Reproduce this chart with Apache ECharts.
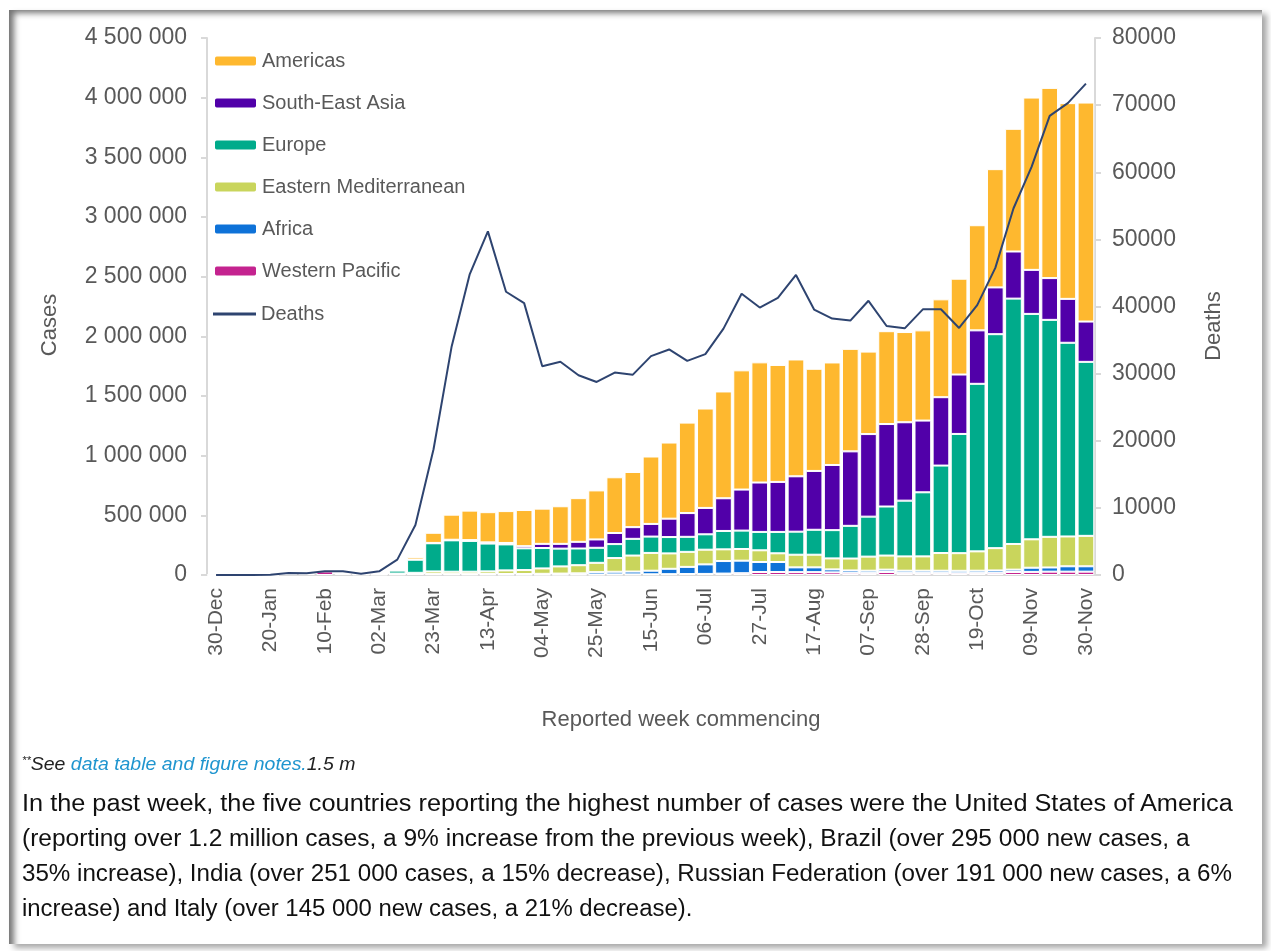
<!DOCTYPE html>
<html><head><meta charset="utf-8">
<script src="https://cdn.jsdelivr.net/npm/echarts@6/dist/echarts.min.js"></script>
<style>
html,body{margin:0;padding:0;background:#fff;width:1271px;height:951px;overflow:hidden;}
#frame{position:absolute;left:9px;top:10px;width:1253px;height:934px;background:#fff;
 box-shadow: inset 8px 6px 6px -3px rgba(0,0,0,0.55), 5px 4px 6px rgba(0,0,0,0.35);}
#chart{position:absolute;left:0;top:0;width:1271px;height:951px;}
.txt{position:absolute;left:22px;white-space:nowrap;transform-origin:0 50%;font-family:'Liberation Sans',Arial,sans-serif;color:#111;}
.body{font-size:23px;line-height:28px;}
#note{font-style:italic;font-size:19px;line-height:24px;color:#222;}
#note sup{font-size:11px;vertical-align:6px;}
</style></head>
<body>
<div id="frame"></div>
<div id="chart"></div>
<div id="note" class="txt" style="top:748px" data-w="333"><sup>**</sup>See <span style="color:#1f95cf">data table and figure notes.</span>1.5 m</div>
<div class="txt body" style="top:789px" data-w="1211">In the past week, the five countries reporting the highest number of cases were the United States of America</div>
<div class="txt body" style="top:824px" data-w="1168">(reporting over 1.2 million cases, a 9% increase from the previous week), Brazil (over 295 000 new cases, a</div>
<div class="txt body" style="top:859px" data-w="1210">35% increase), India (over 251 000 cases, a 15% decrease), Russian Federation (over 191 000 new cases, a 6%</div>
<div class="txt body" style="top:894px" data-w="670">increase) and Italy (over 145 000 new cases, a 21% decrease).</div>
<script>
const weeks = ['30-Dec','06-Jan','13-Jan','20-Jan','27-Jan','03-Feb','10-Feb','17-Feb','24-Feb','02-Mar','09-Mar','16-Mar','23-Mar','30-Mar','06-Apr','13-Apr','20-Apr','27-Apr','04-May','11-May','18-May','25-May','01-Jun','08-Jun','15-Jun','22-Jun','29-Jun','06-Jul','13-Jul','20-Jul','27-Jul','03-Aug','10-Aug','17-Aug','24-Aug','31-Aug','07-Sep','14-Sep','21-Sep','28-Sep','05-Oct','12-Oct','19-Oct','26-Oct','02-Nov','09-Nov','16-Nov','23-Nov','30-Nov'];

const westernPacific = [0,0,0,3000,10000,18000,30000,14000,5000,4000,6000,8000,7000,6000,5000,5000,4000,3000,3000,3000,4000,4000,5000,5000,6000,7000,8000,9000,12000,15000,25000,25000,24000,24000,22000,18000,16000,25000,16000,16000,16000,15000,16000,18000,25000,26000,28000,28000,28000];
const africa = [0,0,0,0,0,0,0,0,0,0,100,300,800,1500,2500,3500,4500,5500,7000,9000,10000,20000,22000,24000,30000,45000,60000,80000,105000,105000,84000,84000,40000,40000,25000,20000,20000,20000,20000,20000,20000,20000,20000,20000,20000,35000,35000,45000,45000];
const easternMediterranean = [0,0,0,0,0,0,0,0,500,2000,6000,10000,22000,20000,20000,22000,30000,33000,45000,60000,68000,78000,115000,134000,149000,129000,126000,123000,98000,98000,98000,73000,106000,106000,92000,100000,118000,118000,120000,120000,148000,148000,162000,187000,215000,238000,257000,250000,255000];
const europe = [0,0,0,0,0,0,0,0,1000,8000,25000,110000,236000,263000,258000,233000,218000,182000,171000,149000,140000,126000,117000,140000,137000,137000,126000,129000,154000,154000,154000,179000,193000,209000,237000,274000,335000,411000,467000,537000,733000,999000,1404000,1793000,2056000,1889000,1818000,1623000,1458000];
const southEastAsia = [0,0,0,0,0,0,0,0,0,100,500,1500,3000,5000,7000,10000,12000,18000,35000,40000,56000,70000,93000,98000,106000,154000,199000,221000,274000,344000,414000,419000,464000,493000,546000,624000,692000,691000,657000,601000,573000,498000,448000,392000,395000,369000,350000,368000,338000];
const americas = [0,0,0,0,0,0,0,0,100,500,5000,20000,85000,210000,247000,253000,267000,303000,295000,315000,366000,411000,467000,462000,565000,638000,758000,833000,895000,999000,1007000,980000,979000,856000,859000,859000,691000,778000,756000,756000,820000,803000,881000,991000,1028000,1444000,1594000,1640000,1835000];
const deaths = [0,0,0,50,300,250,550,550,200,550,2290,7450,18740,34050,44830,51190,42200,40500,31100,31760,29750,28760,30150,29850,32600,33600,31900,32900,36700,41900,39850,41300,44700,39550,38200,37900,40850,37100,36750,39580,39580,36800,40200,45750,54600,60800,68400,70300,73200];

const barLegendNames = ['Americas','South-East Asia','Europe','Eastern Mediterranean','Africa','Western Pacific'];
const lineLegendNames = ['Deaths'];

const FONT = "'Liberation Sans', Arial, sans-serif";
const GREY = '#595959';
const AXIS = '#d9d9d9';
const DEATH_COLOR = '#2E4470';
function spaced(v){ return String(v).replace(/\B(?=(\d{3})+(?!\d))/g,' '); }

function bar(name, data, color){
  return {name:name, type:'bar', stack:'cases', data:data, barWidth:'92%',
    itemStyle:{color:color, borderColor:'#ffffff', borderWidth:1}};
}

const chart = echarts.init(document.getElementById('chart'), null, {renderer:'canvas'});
chart.setOption({
  animation:false,
  backgroundColor:'transparent',
  textStyle:{fontFamily:FONT},
  grid:{left:207, right:176, top:38, bottom:376, containLabel:false},
  legend:[
    {orient:'vertical', left:213, top:51, padding:0, itemWidth:43, itemHeight:11, itemGap:22,
     textStyle:{fontSize:20, color:GREY, fontFamily:FONT}, data:barLegendNames},
    {orient:'vertical', left:213, top:304, padding:0, itemWidth:43, itemHeight:3, itemGap:22,
     icon:'rect', itemStyle:{color:DEATH_COLOR, borderWidth:0},
     textStyle:{fontSize:20, color:GREY, fontFamily:FONT}, data:lineLegendNames}
  ],
  xAxis:{type:'category', data:weeks,
    axisLine:{lineStyle:{color:AXIS, width:2}},
    axisTick:{interval:0, length:6, lineStyle:{color:AXIS, width:2}},
    axisLabel:{interval:2, rotate:90, fontSize:21, color:GREY, margin:13, fontFamily:FONT}},
  yAxis:[
    {type:'value', min:0, max:4500000, interval:500000, position:'left',
     axisLine:{show:true, lineStyle:{color:AXIS, width:2}},
     axisTick:{show:true, length:6, lineStyle:{color:AXIS, width:2}},
     splitLine:{show:false},
     axisLabel:{formatter:spaced, fontSize:23, color:GREY, margin:20, fontFamily:FONT}},
    {type:'value', min:0, max:80000, interval:10000, position:'right',
     axisLine:{show:true, lineStyle:{color:AXIS, width:2}},
     axisTick:{show:true, length:6, lineStyle:{color:AXIS, width:2}},
     splitLine:{show:false},
     axisLabel:{formatter:function(v){return String(v);}, fontSize:23, color:GREY, margin:17, fontFamily:FONT}}
  ],
  graphic:[
    {type:'text', x:50, y:325, rotation:Math.PI/2,
     style:{text:'Cases', font:"22px 'Liberation Sans', Arial, sans-serif", fill:GREY, align:'center', verticalAlign:'middle'}},
    {type:'text', x:1214, y:326, rotation:Math.PI/2,
     style:{text:'Deaths', font:"22px 'Liberation Sans', Arial, sans-serif", fill:GREY, align:'center', verticalAlign:'middle'}},
    {type:'text', x:681, y:720,
     style:{text:'Reported week commencing', font:"22px 'Liberation Sans', Arial, sans-serif", fill:GREY, align:'center', verticalAlign:'middle'}}
  ],
  series:[
    bar('Western Pacific', westernPacific, '#C4238F'),
    bar('Africa', africa, '#0E72D8'),
    bar('Eastern Mediterranean', easternMediterranean, '#C9D55C'),
    bar('Europe', europe, '#00AB8B'),
    bar('South-East Asia', southEastAsia, '#5100A9'),
    bar('Americas', americas, '#FEB82F'),
    {name:'Deaths', type:'line', yAxisIndex:1, data:deaths, symbol:'none', showSymbol:false, z:5,
     lineStyle:{color:DEATH_COLOR, width:2}, itemStyle:{color:DEATH_COLOR}}
  ]
});

function fitLines(){
  document.querySelectorAll('.txt').forEach(function(el){
    el.style.transform = 'none';
    var w = el.scrollWidth, target = parseFloat(el.getAttribute('data-w'));
    if (w > 0 && target) el.style.transform = 'scaleX(' + (target / w) + ')';
  });
}
fitLines();
if (document.fonts && document.fonts.ready) document.fonts.ready.then(fitLines);
</script>
</body></html>
